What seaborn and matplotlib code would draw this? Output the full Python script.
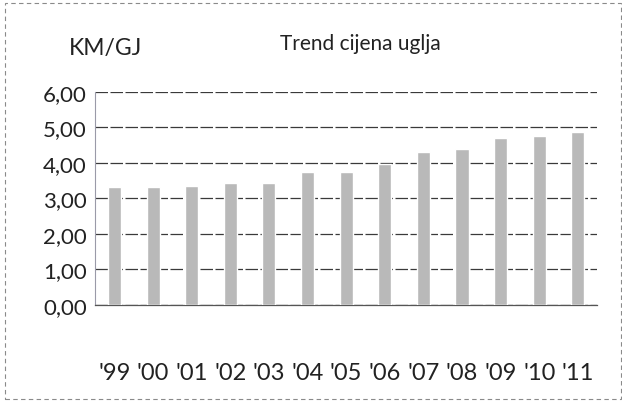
import matplotlib
matplotlib.use("Agg")
import matplotlib.pyplot as plt
import seaborn as sns
import pandas as pd

years = ["'99", "'00", "'01", "'02", "'03", "'04", "'05",
         "'06", "'07", "'08", "'09", "'10", "'11"]
prices = [3.31, 3.31, 3.34, 3.43, 3.43, 3.73, 3.73,
          3.98, 4.32, 4.38, 4.69, 4.77, 4.88]
y_ticks = [0, 1, 2, 3, 4, 5, 6]

sns.set_theme(style="white")
plt.rcParams['font.family'] = ['Lato', 'DejaVu Sans']

df = pd.DataFrame({"year": years, "price": prices})

fig = plt.figure(figsize=(6.22, 4.02), dpi=100)
ax = fig.add_axes([0.153, 0.239, 0.807, 0.53])

sns.barplot(data=df, x="year", y="price", color="#b9b9b9", width=0.34,
            saturation=1, ax=ax, zorder=3)

ax.set_ylim(0, 6)
ax.set_yticks(y_ticks)
ax.set_yticklabels([f"{v:.2f}".replace(".", ",") for v in y_ticks])
ax.yaxis.grid(True, color="#3a3a3a", linewidth=0.9, linestyle=(0, (10, 2)))
ax.set_axisbelow(True)

for s in ["top", "right"]:
    ax.spines[s].set_visible(False)
ax.spines["left"].set_color("#9a9aa8")
ax.spines["left"].set_linewidth(0.8)
ax.spines["bottom"].set_color("#555555")
ax.spines["bottom"].set_linewidth(0.9)

ax.tick_params(axis="y", labelsize=16, colors="#222222", length=0, pad=6)
ax.tick_params(axis="x", labelsize=17, colors="#222222", length=0, pad=49)
ax.set_xlabel("")
ax.set_ylabel("")
for lbl in ax.get_xticklabels():
    lbl.set_verticalalignment("center")

fig.text(0.17, 0.88, "KM/GJ", fontsize=16.5, color="#222222", ha="center", va="center")
fig.text(0.58, 0.89, "Trend cijena uglja", fontsize=15, color="#222222", ha="center", va="center")

border = plt.Rectangle((0.008, 0.005), 0.99, 0.985, transform=fig.transFigure,
                       fill=False, edgecolor="#8a8a8a", linewidth=0.8,
                       linestyle=(0, (4, 3)))
fig.patches.append(border)

fig.savefig("out.png", dpi=100)
